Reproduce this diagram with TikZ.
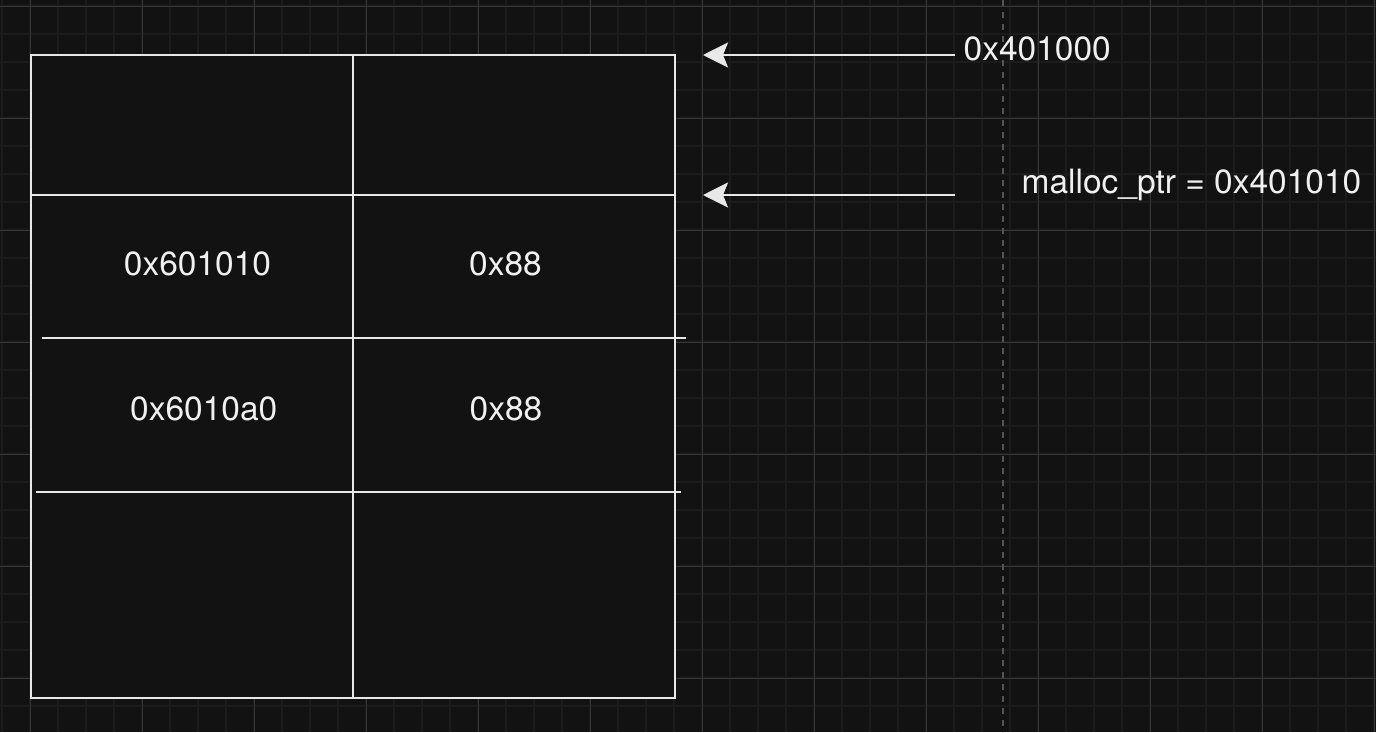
\documentclass[tikz,border=0pt]{standalone}
\usepackage{fontspec}
\setmainfont{TeX Gyre Heros}
\usetikzlibrary{arrows.meta}
\definecolor{bgc}{HTML}{121212}
\definecolor{minorc}{HTML}{1C1C1C}
\definecolor{majorc}{HTML}{363636}
\definecolor{dashc}{HTML}{555555}
\definecolor{linec}{HTML}{E8E8E8}
\definecolor{textc}{HTML}{F0F0F0}
\tikzset{
  minorgrid/.style={draw=minorc,line width=1.6pt},
  majorgrid/.style={draw=majorc,line width=1pt},
  tableline/.style={draw=linec,line width=2.3pt},
  lbl/.style={text=textc,inner sep=0pt,font=\fontsize{33.5}{40}\selectfont},
  ptrarrow/.style={draw=linec,line width=2.8pt,-{Stealth[length=25pt,width=25pt,inset=5pt]}}
}
\begin{document}
\begin{tikzpicture}[x=1pt,y=-1pt]
\useasboundingbox[fill=bgc] (0,0) rectangle (1376,732);
% grid
\foreach \i in {0,...,49} {\draw[minorgrid] ({2+28*\i},0) -- ++(0,732);}
\foreach \i in {0,...,25} {\draw[minorgrid] (0,{6+28*\i}) -- ++(1376,0);}
\foreach \i in {0,...,12} {\draw[majorgrid] ({30+112*\i},0) -- ++(0,732);}
\foreach \i in {0,...,6} {\draw[majorgrid] (0,{6+112*\i}) -- ++(1376,0);}
\draw[draw=dashc,line width=2pt,dash pattern=on 6pt off 6pt] (1003,0) -- (1003,732);
% table
\node[tableline,fill=bgc,rectangle,inner sep=0pt,minimum width=644pt,minimum height=643pt] (tbl) at (353,376.5) {};
\draw[tableline] (353,55) -- (353,698);
\draw[tableline] (31,195) -- (675,195);
\draw[tableline] (42,338) -- (686,338);
\draw[tableline] (36,492) -- (681,492);
% cell texts
\node[lbl,anchor=base] (a1) at (197.5,275) {0x601010};
\node[lbl,anchor=base] (b1) at (505.5,275) {0x88};
\node[lbl,anchor=base] (a2) at (203.7,420) {0x6010a0};
\node[lbl,anchor=base] (b2) at (506,420) {0x88};
% labels
\node[lbl,anchor=base west] (base) at (963.5,60) {0x401000};
\node[lbl,anchor=base west] (mptr) at (1021.5,193.3) {malloc\_ptr = 0x401010};
% arrows
\coordinate (s1) at (955,55);
\coordinate (t1) at (703,55);
\coordinate (s2) at (955,195);
\coordinate (t2) at (703,195);
\draw[ptrarrow] (s1) -- (t1);
\draw[ptrarrow] (s2) -- (t2);
\end{tikzpicture}
\end{document}
